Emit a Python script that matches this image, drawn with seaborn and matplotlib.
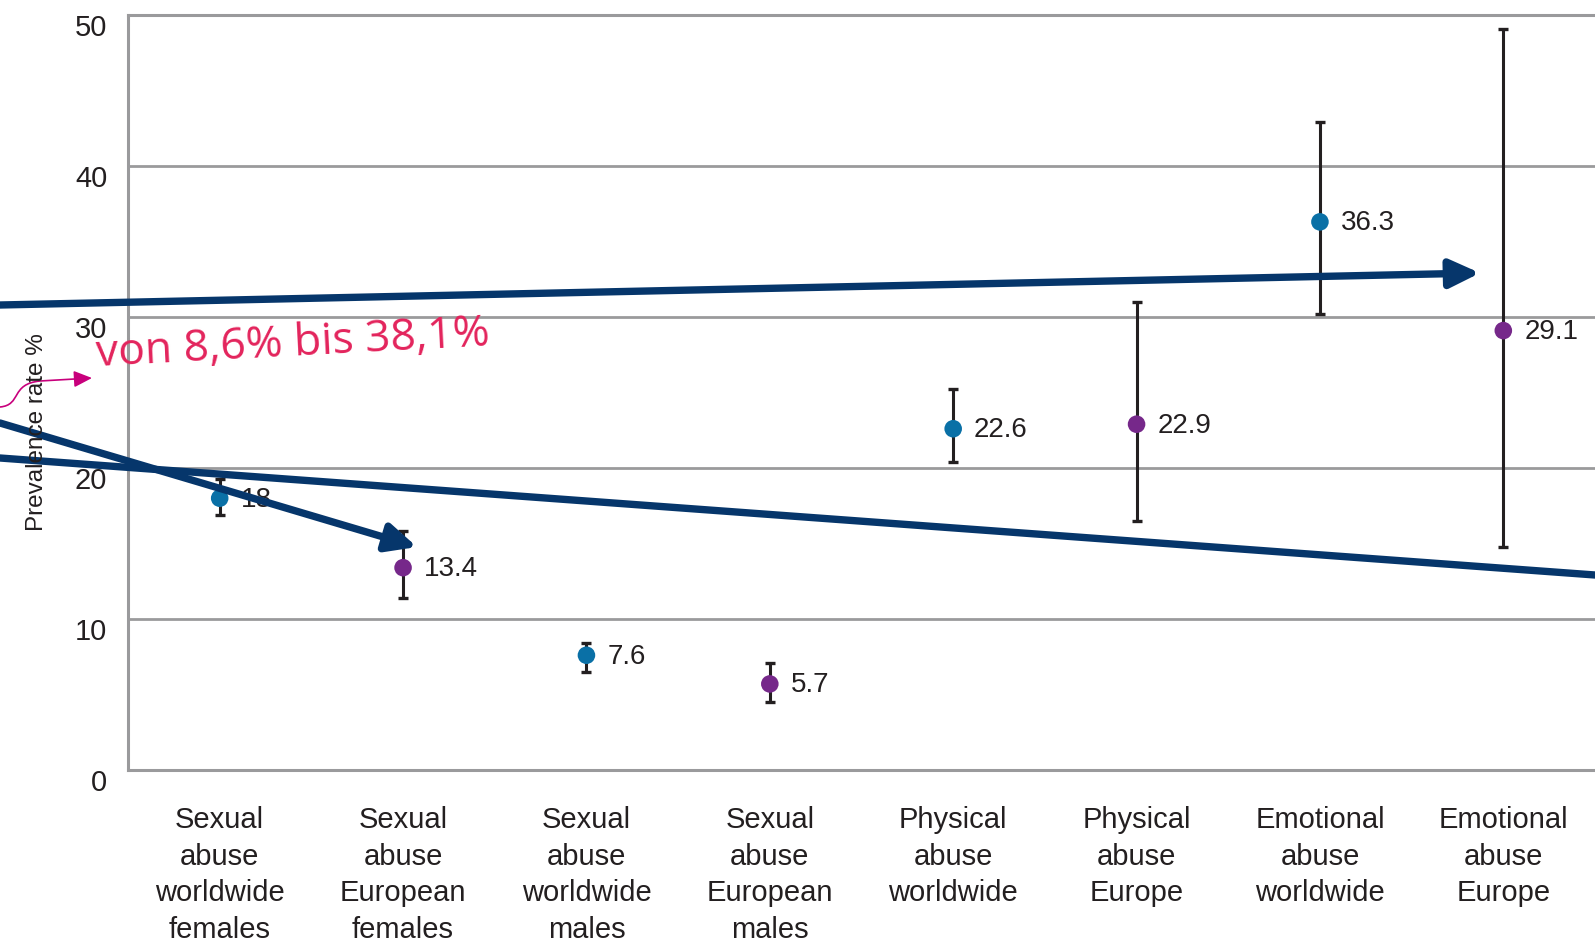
import matplotlib
matplotlib.use("Agg")
import matplotlib.pyplot as plt
import matplotlib.transforms as mtransforms
from matplotlib.path import Path
from matplotlib.patches import FancyArrowPatch
import numpy as np
import pandas as pd
import seaborn as sns

# values
categories = ["Sexual\nabuse\nworldwide\nfemales", "Sexual\nabuse\nEuropean\nfemales",
              "Sexual\nabuse\nworldwide\nmales", "Sexual\nabuse\nEuropean\nmales",
              "Physical\nabuse\nworldwide", "Physical\nabuse\nEurope",
              "Emotional\nabuse\nworldwide", "Emotional\nabuse\nEurope"]
prevalence = [18.0, 13.4, 7.6, 5.7, 22.6, 22.9, 36.3, 29.1]
ci_low = [16.9, 11.4, 6.5, 4.5, 20.4, 16.5, 30.2, 14.8]
ci_high = [19.3, 15.8, 8.4, 7.1, 25.2, 31.0, 42.9, 49.1]
region = ["worldwide", "Europe", "worldwide", "Europe",
          "worldwide", "Europe", "worldwide", "Europe"]
value_labels = ["18", "13.4", "7.6", "5.7", "22.6", "22.9", "36.3", "29.1"]
y_ticks = [0, 10, 20, 30, 40, 50]
note_text = "von 8,6% bis 38,1%"

df = pd.DataFrame({"category": categories, "prevalence": prevalence,
                   "low": ci_low, "high": ci_high, "region": region})

sns.set_style("white")
plt.rcParams["font.family"] = ["Liberation Sans", "DejaVu Sans"]

grey = "#9a9a9c"
navy = "#06366b"
ink = "#231f20"
palette = {"worldwide": "#0a70a6", "Europe": "#76288a"}

fig = plt.figure(figsize=(15.95, 9.41), dpi=100)
ax = fig.add_axes([128 / 1595, 1 - 770 / 941, 1467 / 1595, 755 / 941])

# error bars first, points on top
xpos = np.arange(len(df))
ax.errorbar(xpos, df["prevalence"],
            yerr=[df["prevalence"] - df["low"], df["high"] - df["prevalence"]],
            fmt="none", ecolor=ink, elinewidth=2.2, capsize=3.3, capthick=2.4, zorder=3)
sns.scatterplot(data=df, x="category", y="prevalence", hue="region", palette=palette,
                s=160, edgecolor="none", legend=False, ax=ax, zorder=4)

for i, (v, lab) in enumerate(zip(prevalence, value_labels)):
    ax.annotate(lab, (i, v), xytext=(15, -1), textcoords="offset points",
                va="center", ha="left", fontsize=20, color=ink, zorder=5)

ax.set_xlim(-0.5, 7.5)
ax.set_ylim(0, 50)
ax.set_yticks(y_ticks)
ax.set_xticks(xpos)
ax.set_xticklabels(categories, fontsize=21, linespacing=1.385, color=ink)
ax.set_xticks(np.arange(0.5, 8, 1), minor=True)
ax.tick_params(axis="x", which="major", length=0, pad=26)
ax.tick_params(axis="x", which="minor", direction="in", length=14, width=2, color=ink)
ax.tick_params(axis="y", length=0, pad=15, labelsize=21, labelcolor=ink)
ax.set_xlabel("")
ax.set_ylabel("")

ax.yaxis.grid(True, color=grey, lw=2)
ax.set_axisbelow(True)
for side in ["left", "bottom", "top"]:
    ax.spines[side].set_color(grey)
    ax.spines[side].set_linewidth(2.2)
ax.spines["right"].set_visible(False)

# y tick labels sit a little below their gridlines
shift = mtransforms.ScaledTranslation(0, -0.1, fig.dpi_scale_trans)
for lab in ax.get_yticklabels():
    lab.set_transform(lab.get_transform() + shift)

fig.text(37 / 1595, 1 - 432 / 941, "Prevalence rate %", rotation=90, ha="center", va="center",
         fontsize=17.5, color=ink)

# overlay annotations
def fig_xy(px, py):
    return (px / 1595, 1 - py / 941)

head = "-|>,head_length=1.8,head_width=0.85"
ax.annotate("", xy=fig_xy(1480, 273), xytext=fig_xy(0, 305), xycoords="figure fraction",
            textcoords="figure fraction", annotation_clip=False,
            arrowprops=dict(arrowstyle=head, mutation_scale=10,
                            lw=5.3, color=navy, shrinkA=0, shrinkB=0), zorder=10)
ax.annotate("", xy=fig_xy(1595, 575), xytext=fig_xy(0, 458), xycoords="figure fraction",
            textcoords="figure fraction", annotation_clip=False,
            arrowprops=dict(arrowstyle="-", lw=5.3, color=navy, shrinkA=0, shrinkB=0), zorder=10)
ax.annotate("", xy=fig_xy(417, 547), xytext=fig_xy(0, 423), xycoords="figure fraction",
            textcoords="figure fraction", annotation_clip=False,
            arrowprops=dict(arrowstyle=head, mutation_scale=10,
                            lw=5.3, color=navy, shrinkA=0, shrinkB=0), zorder=10)

fig.text(*fig_xy(97, 366), note_text, rotation=3, rotation_mode="anchor", ha="left",
         va="baseline", fontsize=32, family=["Open Sans", "DejaVu Sans"], color="#e3245c")

pts = [fig_xy(0, 407), fig_xy(22, 405), fig_xy(10, 384), fig_xy(40, 381), fig_xy(92, 378)]
pink_path = Path(pts, [Path.MOVETO, Path.CURVE4, Path.CURVE4, Path.CURVE4, Path.LINETO])
fig.add_artist(FancyArrowPatch(path=pink_path, transform=fig.transFigure,
                               arrowstyle="-|>,head_length=1.1,head_width=0.5", mutation_scale=10,
                               lw=1.2, color="#c8007c"))

fig.savefig("out.png", dpi=100)
